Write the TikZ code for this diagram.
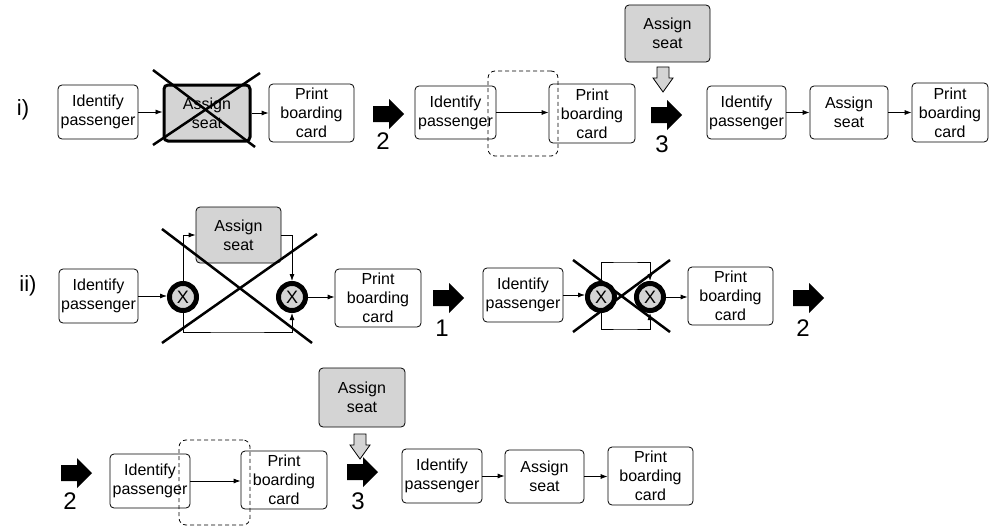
\documentclass[tikz,border=0pt]{standalone}
\usepackage{fontspec}
\setmainfont{Liberation Sans}
\usetikzlibrary{arrows.meta}
\definecolor{taskgray}{RGB}{212,212,212}
\begin{document}
\begin{tikzpicture}[x=1pt,y=-1pt,
  box/.style={draw, rounded corners=4pt, line width=0.8pt, inner sep=0pt,
    align=center, font=\fontsize{16}{19}\selectfont},
  graybox/.style={box, fill=taskgray},
  killed/.style={box, fill=taskgray, line width=3pt},
  scopebox/.style={draw, dashed, dash pattern=on 4pt off 3pt, rounded corners=7pt, line width=0.8pt},
  gateway/.style={circle, draw, fill=taskgray, line width=5pt, minimum size=27pt,
    inner sep=0pt, font=\fontsize{18}{18}\selectfont},
  flow/.style={line width=0.8pt, -{Latex[length=7pt,width=5pt]}},
  strike/.style={line width=2.5pt},
  stepnum/.style={font=\fontsize{24}{24}\selectfont, inner sep=0pt},
  rowlabel/.style={font=\fontsize{22}{22}\selectfont, inner sep=0pt},
  blockarrow/.pic={\fill[black] (0,-8) -- (16,-8) -- (16,-15) -- (31,0) -- (16,15) -- (16,8) -- (0,8) -- cycle;},
  insertarrow/.pic={\filldraw[fill=taskgray, draw=black, line width=0.8pt]
    (-6,0) -- (6,0) -- (6,11) -- (10,11) -- (0,25) -- (-10,11) -- (-6,11) -- cycle;}
]
\useasboundingbox (0,0) rectangle (990,527);

% ---------- row i ----------
\node[rowlabel] (ri) at (23,110) {i)};
\node[box, minimum width=80, minimum height=54] (A1) at (98,112) {Identify\\passenger};
\node[killed, minimum width=86, minimum height=56] (A2) at (207,113) {Assign\\seat};
\node[box, minimum width=85, minimum height=58] (A3) at (311.5,113) {Print\\boarding\\card};
\draw[flow] (A1.east) -- (A1.east -| A2.west);
\draw[flow] (A2.east) -- (A2.east -| A3.west);
\coordinate (a1) at (153,70); \coordinate (a2) at (255,147);
\coordinate (a3) at (260,73); \coordinate (a4) at (153,145);
\draw[strike] (a1) -- (a2);
\draw[strike] (a3) -- (a4);

\pic at (373,114) {blockarrow};
\node[stepnum] (n2a) at (383,141) {2};

\node[box, minimum width=81, minimum height=53] (B1) at (455.5,112.5) {Identify\\passenger};
\node[box, minimum width=86, minimum height=59] (B3) at (592,113.5) {Print\\boarding\\card};
\draw[flow] (B1.east) -- (B1.east -| B3.west);
\node[scopebox, minimum width=70, minimum height=85] (Bd) at (523,113.5) {};

\node[graybox, minimum width=85, minimum height=57] (Bg) at (667.5,33.5) {Assign\\seat};
\pic at (663,67) {insertarrow};
\pic at (651,115) {blockarrow};
\node[stepnum] (n3a) at (662,144) {3};

\node[box, minimum width=79, minimum height=53] (C1) at (746.5,112.5) {Identify\\passenger};
\node[box, minimum width=78, minimum height=53] (C2) at (849,112.5) {Assign\\seat};
\node[box, minimum width=76, minimum height=59] (C3) at (950,112.5) {Print\\boarding\\card};
\draw[flow] (C1.east) -- (C1.east -| C2.west);
\draw[flow] (C2.east) -- (C2.east -| C3.west);

% ---------- row ii ----------
\node[rowlabel] (rii) at (28,286) {ii)};
\node[box, minimum width=79, minimum height=54] (D1) at (98.5,296) {Identify\\passenger};
\node[graybox, minimum width=85, minimum height=56] (D2) at (238.5,235) {Assign\\seat};
\node[gateway] (DG1) at (183,297) {X};
\node[gateway] (DG2) at (292,297) {X};
\node[box, minimum width=86, minimum height=58] (D3) at (378,298) {Print\\boarding\\card};
\coordinate (dlow) at (237,332);
\draw[flow] (D1.east) -- (D1.east -| DG1.west);
\draw[flow] (DG1.north) |- (D2.west);
\draw[flow] (D2.east) -| (DG2.north);
\draw[flow] (DG1.south) |- (dlow) -| (DG2.south);
\draw[flow] (DG2.east) -- (DG2.east -| D3.west);
\coordinate (d1) at (162,229); \coordinate (d2) at (312,343);
\coordinate (d3) at (317,234); \coordinate (d4) at (162,343);
\draw[strike] (d1) -- (d2);
\draw[strike] (d3) -- (d4);

\pic at (433,298) {blockarrow};
\node[stepnum] (n1b) at (442,328) {1};

\node[box, minimum width=80, minimum height=54] (E1) at (523,295) {Identify\\passenger};
\node[gateway] (EG1) at (601,297) {X};
\node[gateway] (EG2) at (650,297) {X};
\node[box, minimum width=85, minimum height=58] (E3) at (730.5,296) {Print\\boarding\\card};
\coordinate (etop) at (625,262);
\coordinate (ebot) at (625,329);
\draw[flow] (E1.east) -- (E1.east -| EG1.west);
\draw[flow] (EG1.north) |- (etop) -| (EG2.north);
\draw[flow] (EG1.south) |- (ebot) -| (EG2.south);
\draw[flow] (EG2.east) -- (EG2.east -| E3.west);
\coordinate (e1) at (573,260); \coordinate (e2) at (670,332);
\coordinate (e3) at (670,260); \coordinate (e4) at (573,332);
\draw[strike] (e1) -- (e2);
\draw[strike] (e3) -- (e4);

\pic at (793,298) {blockarrow};
\node[stepnum] (n2b) at (803,328) {2};

% ---------- row iii ----------
\pic at (61,473) {blockarrow};
\node[stepnum] (n2c) at (70,501) {2};

\node[box, minimum width=80, minimum height=54] (F1) at (150,481) {Identify\\passenger};
\node[box, minimum width=86, minimum height=58] (F3) at (284,480) {Print\\boarding\\card};
\draw[flow] (F1.east) -- (F1.east -| F3.west);
\node[scopebox, minimum width=71, minimum height=85] (Fd) at (214.5,482.5) {};

\node[graybox, minimum width=86, minimum height=59] (Fg) at (362,397.5) {Assign\\seat};
\pic at (360,434) {insertarrow};
\pic at (347,472) {blockarrow};
\node[stepnum] (n3c) at (358,501) {3};

\node[box, minimum width=80, minimum height=54] (G1) at (442,476) {Identify\\passenger};
\node[box, minimum width=79, minimum height=53] (G2) at (544.5,476.5) {Assign\\seat};
\node[box, minimum width=85, minimum height=58] (G3) at (650.5,476) {Print\\boarding\\card};
\draw[flow] (G1.east) -- (G1.east -| G2.west);
\draw[flow] (G2.east) -- (G2.east -| G3.west);
\end{tikzpicture}
\end{document}
